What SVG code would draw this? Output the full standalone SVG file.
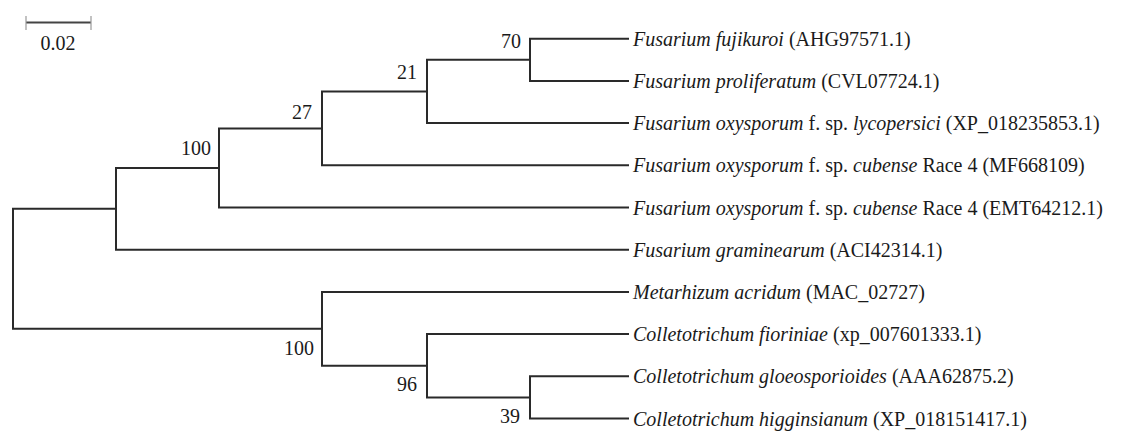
<svg xmlns="http://www.w3.org/2000/svg" width="1137" height="432" viewBox="0 0 1137 432">
<style>
.br{fill:none;stroke:#2a2a2a;stroke-width:2;stroke-linecap:square}
text{font-family:"Liberation Serif","Times New Roman",serif;font-size:20px;fill:#1a1a1a}
.bs{text-anchor:end}
.it{font-style:italic}
</style>
<rect width="1137" height="432" fill="#fff"/>
<g id="scale">
<line x1="26" y1="22.5" x2="91" y2="22.5" stroke="#444" stroke-width="2"/>
<line x1="26" y1="16" x2="26" y2="30" stroke="#999" stroke-width="1.2"/>
<line x1="91" y1="16" x2="91" y2="30" stroke="#999" stroke-width="1.2"/>
<text x="58" y="50" text-anchor="middle">0.02</text>
</g>
<g id="connectors">
<path class="br" d="M13,208.8V328.8M13,208.8H116M13,328.8H322"/>
<path class="br" d="M116,167.9V249.7M116,167.9H219M116,249.7H628"/>
<path class="br" d="M219,128.4V207.5M219,128.4H322M219,207.5H628"/>
<path class="br" d="M322,91.45V165.3M322,91.45H427M322,165.3H628"/>
<path class="br" d="M427,59.8V123.1M427,59.8H530M427,123.1H628"/>
<path class="br" d="M530,38.7V80.9M530,38.7H628M530,80.9H628"/>
<path class="br" d="M322,291.9V365.75M322,291.9H628M322,365.75H427"/>
<path class="br" d="M427,334.1V397.4M427,334.1H628M427,397.4H530"/>
<path class="br" d="M530,376.3V418.5M530,376.3H628M530,418.5H628"/>
</g>
<g id="support">
<text class="bs" x="521" y="48">70</text>
<text class="bs" x="417" y="79">21</text>
<text class="bs" x="312" y="119">27</text>
<text class="bs" x="211" y="155">100</text>
<text class="bs" x="314" y="355">100</text>
<text class="bs" x="417" y="391">96</text>
<text class="bs" x="520" y="423">39</text>
</g>
<g id="leaf1"><text x="633" y="45.7"><tspan class="it">Fusarium fujikuroi</tspan> (AHG97571.1)</text></g>
<g id="leaf2"><text x="633" y="87.9"><tspan class="it">Fusarium proliferatum</tspan> (CVL07724.1)</text></g>
<g id="leaf3"><text x="633" y="130.1"><tspan class="it">Fusarium oxysporum</tspan> f. sp. <tspan class="it">lycopersici</tspan> (XP_018235853.1)</text></g>
<g id="leaf4"><text x="633" y="172.3"><tspan class="it">Fusarium oxysporum</tspan> f. sp. <tspan class="it">cubense</tspan> Race 4 (MF668109)</text></g>
<g id="leaf5"><text x="633" y="214.5"><tspan class="it">Fusarium oxysporum</tspan> f. sp. <tspan class="it">cubense</tspan> Race 4 (EMT64212.1)</text></g>
<g id="leaf6"><text x="633" y="256.7"><tspan class="it">Fusarium graminearum</tspan> (ACI42314.1)</text></g>
<g id="leaf7"><text x="633" y="298.9"><tspan class="it">Metarhizum acridum</tspan> (MAC_02727)</text></g>
<g id="leaf8"><text x="633" y="341.1"><tspan class="it">Colletotrichum fioriniae</tspan> (xp_007601333.1)</text></g>
<g id="leaf9"><text x="633" y="383.3"><tspan class="it">Colletotrichum gloeosporioides</tspan> (AAA62875.2)</text></g>
<g id="leaf10"><text x="633" y="425.5"><tspan class="it">Colletotrichum higginsianum</tspan> (XP_018151417.1)</text></g>
</svg>
